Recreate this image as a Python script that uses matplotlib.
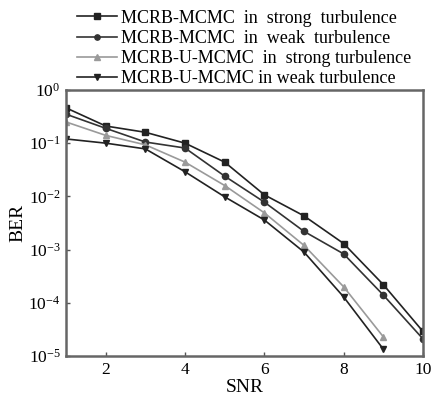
import numpy as np
import matplotlib.pyplot as plt
from matplotlib.ticker import LogLocator, NullLocator

plt.rcParams.update({"font.family": "Liberation Serif", "mathtext.fontset": "stix"})

snr = [1, 2, 3, 4, 5, 6, 7, 8, 9, 10]
snr_u = [1, 2, 3, 4, 5, 6, 7, 8, 9]

mcmc_strong = [0.46, 0.21, 0.16, 0.10, 0.044, 0.0107, 0.0043, 0.0013, 0.00022, 0.000029]
mcmc_weak = [0.35, 0.19, 0.105, 0.081, 0.024, 0.0078, 0.0022, 0.00083, 0.00014, 0.000021]
umcmc_strong = [0.25, 0.14, 0.093, 0.044, 0.016, 0.0049, 0.0012, 0.0002, 0.000023]
umcmc_weak = [0.12, 0.10, 0.078, 0.029, 0.0098, 0.0036, 0.0009, 0.000129, 0.0000135]

labels = ["MCRB-MCMC  in  strong  turbulence",
          "MCRB-MCMC  in  weak  turbulence",
          "MCRB-U-MCMC  in  strong turbulence",
          "MCRB-U-MCMC in weak turbulence"]

fig = plt.figure(figsize=(4.32, 3.98), dpi=100)
ax = fig.add_axes([0.153, 0.1055, 0.826, 0.6685])

ax.plot(snr, mcmc_strong, "-s", color="#222222", lw=1.2, ms=4.5, label=labels[0])
ax.plot(snr, mcmc_weak, "-o", color="#333333", lw=1.2, ms=4.5, label=labels[1])
ax.plot(snr_u, umcmc_strong, "-^", color="#9a9a9a", lw=1.2, ms=4.5, label=labels[2])
ax.plot(snr_u, umcmc_weak, "-v", color="#222222", lw=1.2, ms=5, label=labels[3])

ax.set_yscale("log")
ax.set_xlim(1, 10)
ax.set_ylim(1e-5, 1)
ax.set_xticks([2, 4, 6, 8, 10])
ax.yaxis.set_major_locator(LogLocator(base=10, numticks=10))
ax.yaxis.set_minor_locator(NullLocator())
ax.tick_params(direction="in", length=3, width=1, color="#555555", labelsize=12.5, pad=4)
for s in ax.spines.values():
    s.set_linewidth(1.8)
    s.set_color("#666666")

ax.set_xlabel("SNR", fontsize=14, labelpad=1)
ax.set_ylabel("BER", fontsize=14, labelpad=1)

fig.legend(loc="upper left", bbox_to_anchor=(0.171, 0.985), frameon=False,
           fontsize=13, handlelength=2.2, handletextpad=0.2, labelspacing=0.18,
           borderpad=0.2, borderaxespad=0, markerscale=0.85)

plt.savefig("out.png")
